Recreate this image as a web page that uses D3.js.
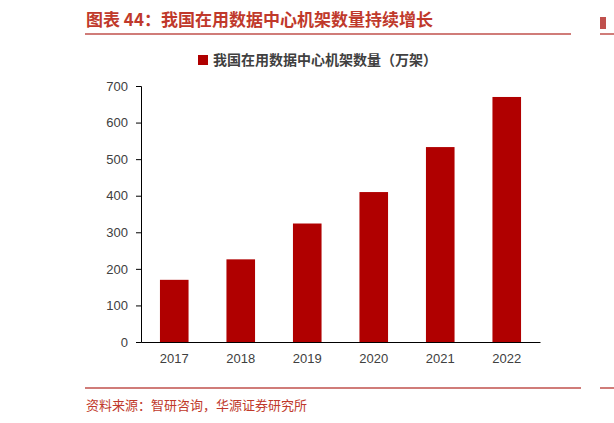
<!DOCTYPE html><html><head><meta charset="utf-8"><script src="https://d3js.org/d3.v7.min.js"></script>
<style>body{margin:0;background:#fff}text{font-family:"Noto Sans CJK SC",sans-serif}</style></head><body>
<svg id="c" width="614" height="423"></svg>
<script>
const years=["2017","2018","2019","2020","2021","2022"];
const racks=[170,226,324,410,533,670];
const yTicks=[0,100,200,300,400,500,600,700];
const red="#b00000";
const svg=d3.select("#c");
svg.append("text").attr("x",86).attr("y",26).attr("fill","#c0392b").attr("font-size",17).attr("font-weight","bold").text("图表 44：我国在用数据中心机架数量持续增长");
svg.append("line").attr("x1",85).attr("x2",571).attr("y1",34).attr("y2",34).attr("stroke","#c0504d").attr("stroke-width",1.5);
svg.append("rect").attr("x",600).attr("y",17).attr("width",6).attr("height",12).attr("fill","#c0504d");
svg.append("line").attr("x1",600).attr("x2",614).attr("y1",34).attr("y2",34).attr("stroke","#c0504d").attr("stroke-width",1.5);
svg.append("rect").attr("x",198).attr("y",55).attr("width",10).attr("height",10).attr("fill",red);
svg.append("text").attr("x",213).attr("y",65).attr("fill","#404040").attr("font-size",14).attr("font-weight","bold").text("我国在用数据中心机架数量（万架）");
const x=d3.scaleBand().domain(years).range([141,540]).paddingInner(0.57).paddingOuter(0.285);
const y=d3.scaleLinear().domain([0,700]).range([342,86]);
svg.selectAll(".b").data(racks).join("rect").attr("x",(d,i)=>x(years[i])).attr("width",x.bandwidth()).attr("y",d=>y(d)).attr("height",d=>y(0)-y(d)).attr("fill",red);
const ya=svg.append("g").attr("transform","translate(141,0)").call(d3.axisLeft(y).tickValues(yTicks).tickSize(5).tickPadding(8));
ya.selectAll("text").attr("font-size",13).attr("fill","#404040").style("font-family","Arial,'Liberation Sans'");
ya.select(".domain").attr("stroke","#000");
const xa=svg.append("g").attr("transform","translate(0,342)").call(d3.axisBottom(x).tickSize(0).tickPadding(12));
xa.selectAll("text").attr("font-size",13).attr("fill","#404040").style("font-family","Arial,'Liberation Sans'");
xa.select(".domain").attr("stroke","#000");
svg.append("line").attr("x1",85).attr("x2",581).attr("y1",388).attr("y2",388).attr("stroke","#c0504d").attr("stroke-width",1.5);
svg.append("line").attr("x1",600).attr("x2",614).attr("y1",388).attr("y2",388).attr("stroke","#c0504d").attr("stroke-width",1.5);
svg.append("text").attr("x",86).attr("y",410).attr("fill","#c0392b").attr("font-size",13).text("资料来源：智研咨询，华源证券研究所");
</script></body></html>
